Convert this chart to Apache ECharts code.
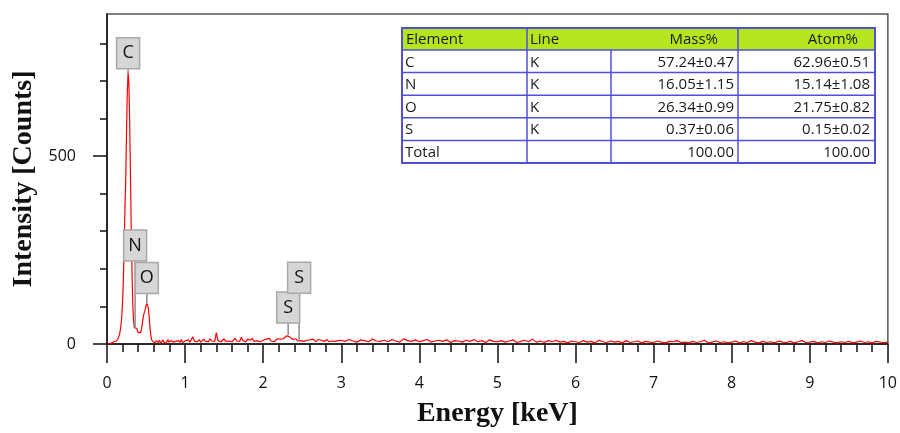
<!DOCTYPE html>
<html>
<head>
<meta charset="utf-8">
<script src="https://cdn.jsdelivr.net/npm/echarts@6/dist/echarts.min.js"></script>
<style>
  html, body { margin: 0; padding: 0; background: #ffffff; }
  #chart { width: 900px; height: 433px; }
</style>
</head>
<body>
<div id="chart"></div>
<script>
// ---- EDS spectrum, counts per channel in three calibration segments ----
const lowStart = 0.00, lowStep = 0.01;     // 0.00 – 0.99 keV
const lowCounts = [
  0, 0, 0, 0, 0, 0, 3, 5, 8, 6,
  11, 9, 8, 12, 14, 18, 25, 36, 52, 75,
  115, 175, 260, 365, 440, 560, 670, 722, 695, 595,
  455, 315, 195, 105, 62, 44, 40, 45, 42, 36,
  30, 27, 25, 30, 38, 50, 66, 78, 85, 92,
  102, 108, 106, 95, 72, 45, 24, 12, 8, 6,
  4, 7, 3, 9, 5, 8, 4, 10, 6, 3,
  8, 5, 11, 4, 7, 9, 3, 6, 12, 5,
  7, 4, 9, 6, 10, 5, 8, 3, 7, 11,
  6, 9, 4, 8, 5, 12, 7, 4, 9, 6
];
const midStart = 1.00, midStep = 0.02;     // 1.00 – 2.98 keV
const midCounts = [
  8, 6, 11, 5, 9, 19, 7, 10, 6, 12,
  5, 9, 13, 7, 10, 6, 14, 8, 11, 7,
  30, 9, 12, 6, 10, 14, 7, 11, 8, 13,
  6, 10, 15, 8, 12, 7, 18, 9, 11, 6,
  13, 8, 10, 16, 7, 12, 9, 14, 6, 11,
  10, 7, 13, 9, 15, 8, 12, 6, 11, 14,
  9, 13, 10, 14, 17, 22, 24, 19, 15, 12,
  10, 14, 8, 10, 9, 13, 7, 12, 10, 8,
  11, 7, 13, 9, 6, 12, 8, 10, 14, 7,
  9, 12, 6, 10, 8, 13, 7, 11, 9, 6
];
const highStart = 3.00, highStep = 0.05;   // 3.00 – 10.00 keV
const highCounts = [
  10, 7, 12, 8, 5, 11, 9, 6, 13, 8,
  7, 10, 6, 12, 8, 5, 14, 9, 7, 11,
  6, 9, 12, 5, 8, 10, 7, 11, 4, 9,
  8, 5, 10, 7, 12, 6, 9, 4, 11, 7,
  6, 9, 5, 8, 11, 4, 7, 10, 6, 13,
  5, 8, 4, 9, 6, 10, 5, 7, 3, 8,
  6, 4, 9, 5, 7, 3, 10, 6, 4, 8,
  5, 7, 3, 9, 4, 6, 8, 3, 7, 5,
  4, 8, 5, 3, 7, 6, 9, 4, 5, 3,
  7, 4, 6, 10, 3, 5, 8, 4, 6, 3,
  5, 8, 3, 6, 4, 9, 5, 3, 7, 4,
  6, 3, 8, 5, 4, 7, 3, 6, 9, 4,
  5, 7, 3, 6, 4, 8, 5, 3, 6, 4,
  7, 3, 5, 8, 4, 6, 3, 7, 5, 4,
  5
];

// ---- identified lines ----
const peakElements = ['C', 'N', 'O', 'S', 'S'];
const peakEnergies = [0.27, 0.36, 0.51, 2.32, 2.46];
const peakCounts   = [722, 40, 108, 24, 10];

// ---- quantification table ----
const tableHeader   = ['Element', 'Line', 'Mass%', 'Atom%'];
const tableElements = ['C', 'N', 'O', 'S', 'Total'];
const tableLines    = ['K', 'K', 'K', 'K', ''];
const tableMass     = ['57.24±0.47', '16.05±1.15', '26.34±0.99', '0.37±0.06', '100.00'];
const tableAtom     = ['62.96±0.51', '15.14±1.08', '21.75±0.82', '0.15±0.02', '100.00'];

// ---- axes ----
const xMin = 0, xMax = 10, xInterval = 1;
const yMin = 0, yMax = 878;
const yMajorTicks = [0, 500];
const yMinorTicks = [0, 100, 200, 300, 400, 500, 600, 700, 800];

// layout of the peak tags (pixels): leader length above the marked point
const tagLift = [4, 68, 10, 12, 47];
const tagW = 23, tagH = 31;

function segment(start, step, counts) {
  return counts.map((c, i) => [+(start + i * step).toFixed(3), c]);
}
const spectrum = [].concat(
  segment(lowStart, lowStep, lowCounts),
  segment(midStart, midStep, midCounts),
  segment(highStart, highStep, highCounts)
);

const chart = echarts.init(document.getElementById('chart'), null, { renderer: 'canvas' });

const tickFont = { fontFamily: 'Open Sans', fontSize: 16, color: '#111' };
const titleFont = { fontFamily: 'Liberation Serif', fontWeight: 'bold', fontSize: 28, color: '#111' };

chart.setOption({
  animation: false,
  backgroundColor: '#ffffff',
  grid: {
    left: 107, right: 11, top: 14, bottom: 89,
    show: true, borderColor: '#555', borderWidth: 1.5, backgroundColor: 'transparent'
  },
  xAxis: {
    type: 'value', min: xMin, max: xMax, interval: xInterval,
    name: 'Energy [keV]', nameLocation: 'middle', nameGap: 56,
    nameTextStyle: titleFont,
    axisLine: { show: true, onZero: false, lineStyle: { color: '#111', width: 1.5 } },
    axisTick: { show: true, length: 19, lineStyle: { color: '#111', width: 1.5 } },
    minorTick: { show: true, splitNumber: 5, length: 8, lineStyle: { color: '#111', width: 1.5 } },
    axisLabel: Object.assign({ margin: 31 }, tickFont),
    splitLine: { show: false }
  },
  yAxis: [
    {
      type: 'value', position: 'left', min: yMin, max: yMax, interval: 100,
      axisLine: { show: true, onZero: false, lineStyle: { color: '#111', width: 1.5 } },
      axisTick: { show: true, length: 7, customValues: yMinorTicks, lineStyle: { color: '#111', width: 1.5 } },
      axisLabel: { show: false },
      splitLine: { show: false }
    },
    {
      type: 'value', position: 'left', min: yMin, max: yMax, interval: 100,
      name: 'Intensity [Counts]', nameLocation: 'middle', nameGap: 65,
      nameTextStyle: titleFont,
      axisLine: { show: false },
      axisTick: { show: true, length: 14, customValues: yMajorTicks, lineStyle: { color: '#111', width: 1.5 } },
      axisLabel: Object.assign({ margin: 31, customValues: yMajorTicks }, tickFont),
      splitLine: { show: false }
    }
  ],
  series: [{
    type: 'line',
    data: spectrum,
    xAxisIndex: 0, yAxisIndex: 0,
    showSymbol: false,
    symbol: 'none',
    lineStyle: { color: '#ff0000', width: 1.2 },
    z: 3
  }]
});

// ---- peak tags and the quantification table ----
const gfx = [];

peakElements.forEach((el, i) => {
  const p = chart.convertToPixel({ xAxisIndex: 0, yAxisIndex: 0 }, [peakEnergies[i], peakCounts[i]]);
  const bottom = p[1] - tagLift[i];
  gfx.push({
    type: 'line', z: 10,
    shape: { x1: p[0], y1: p[1], x2: p[0], y2: bottom },
    style: { stroke: '#8c8c8c', lineWidth: 1.5 }
  });
  gfx.push({
    type: 'rect', z: 11,
    shape: { x: p[0] - tagW / 2, y: bottom - tagH, width: tagW, height: tagH },
    style: { fill: '#d6d6d6', stroke: '#a8a8a8', lineWidth: 1.5 }
  });
  gfx.push({
    type: 'text', z: 12,
    x: p[0], y: bottom - tagH / 2,
    style: {
      text: el, fill: '#111', font: '18px "Open Sans"',
      align: 'center', verticalAlign: 'middle'
    }
  });
});

// table geometry
const colX = [402, 527, 611, 738, 875];
const headTop = 28, headH = 22, rowH = 22.6;
const tblBottom = headTop + headH + rowH * tableElements.length;
const border = '#4f4fdc';
const cellFont = '15px "Open Sans"';

gfx.push({
  type: 'rect', z: 20,
  shape: { x: colX[0], y: headTop, width: colX[4] - colX[0], height: tblBottom - headTop },
  style: { fill: '#ffffff', stroke: null }
});
gfx.push({
  type: 'rect', z: 21,
  shape: { x: colX[0], y: headTop, width: colX[4] - colX[0], height: headH },
  style: { fill: '#b5e61d', stroke: null }
});
// horizontal rules
for (let r = 0; r <= tableElements.length; r++) {
  const y = headTop + headH + r * rowH;
  gfx.push({
    type: 'line', z: 22,
    shape: { x1: colX[0], y1: y, x2: colX[4], y2: y },
    style: { stroke: border, lineWidth: 1.5 }
  });
}
// vertical rules (the header merges the Line and Mass% cells)
[1, 3].forEach(c => gfx.push({
  type: 'line', z: 22,
  shape: { x1: colX[c], y1: headTop, x2: colX[c], y2: tblBottom },
  style: { stroke: border, lineWidth: 1.5 }
}));
gfx.push({
  type: 'line', z: 22,
  shape: { x1: colX[2], y1: headTop + headH, x2: colX[2], y2: tblBottom },
  style: { stroke: border, lineWidth: 1.5 }
});
gfx.push({
  type: 'rect', z: 23,
  shape: { x: colX[0], y: headTop, width: colX[4] - colX[0], height: tblBottom - headTop },
  style: { fill: null, stroke: border, lineWidth: 2 }
});

function cellText(txt, x, y, align) {
  gfx.push({
    type: 'text', z: 24, x: x, y: y,
    style: { text: txt, fill: '#1a1a1a', font: cellFont, align: align, verticalAlign: 'middle' }
  });
}
const headMid = headTop + headH / 2 + 1;
cellText(tableHeader[0], colX[0] + 4, headMid, 'left');
cellText(tableHeader[1], colX[1] + 3, headMid, 'left');
cellText(tableHeader[2], colX[3] - 20, headMid, 'right');
cellText(tableHeader[3], colX[4] - 17, headMid, 'right');
tableElements.forEach((el, r) => {
  const y = headTop + headH + r * rowH + rowH / 2 + 1;
  cellText(el, colX[0] + 3, y, 'left');
  cellText(tableLines[r], colX[1] + 3, y, 'left');
  cellText(tableMass[r], colX[3] - 4, y, 'right');
  cellText(tableAtom[r], colX[4] - 5, y, 'right');
});

chart.setOption({ graphic: { elements: gfx } });
</script>
</body>
</html>
